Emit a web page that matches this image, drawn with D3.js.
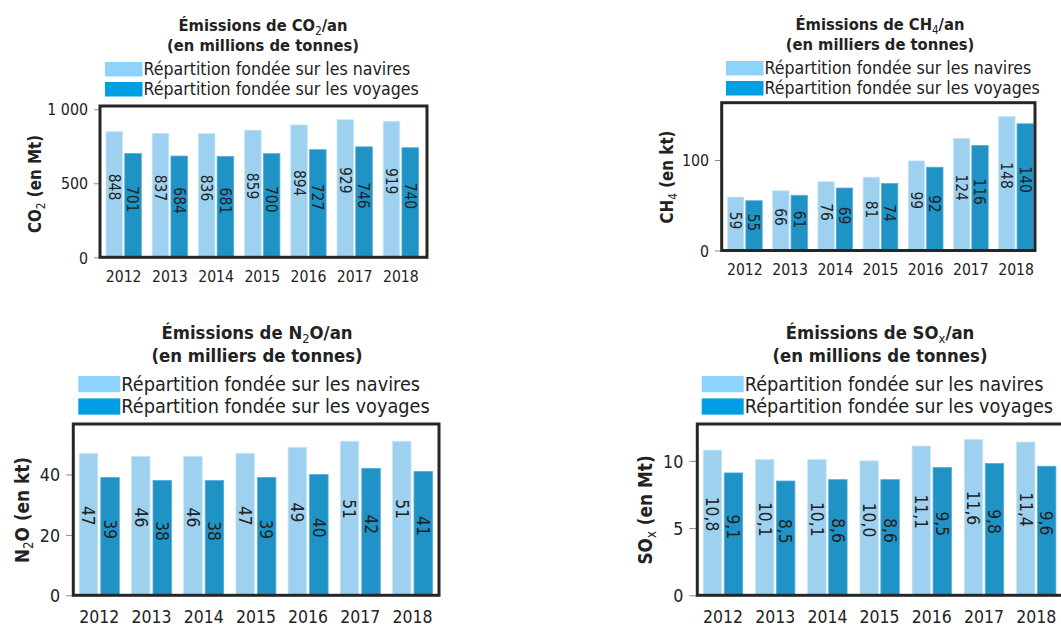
<!DOCTYPE html>
<html><head><meta charset="utf-8">
<script src="https://cdn.jsdelivr.net/npm/d3@7"></script>
<style>
body{margin:0;background:#fff}
svg{display:block}
text{font-family:"DejaVu Sans",sans-serif;font-stretch:condensed;fill:#222}
</style>
</head><body>
<svg id="chart" width="1061" height="626"></svg>
<script>
// ---------- data ----------
const years = ["2012","2013","2014","2015","2016","2017","2018"];
const seriesNames = ["Répartition fondée sur les navires","Répartition fondée sur les voyages"];

const co2Navires = [848,837,836,859,894,929,919];
const co2Voyages = [701,684,681,700,727,746,740];
const ch4Navires = [59,66,76,81,99,124,148];
const ch4Voyages = [55,61,69,74,92,116,140];
const n2oNavires = [47,46,46,47,49,51,51];
const n2oVoyages = [39,38,38,39,40,42,41];
const soxNavires = [10.8,10.1,10.1,10.0,11.1,11.6,11.4];
const soxVoyages = [9.1,8.5,8.6,8.6,9.5,9.8,9.6];

const co2Ticks = [0,500,1000];
const ch4Ticks = [0,100];
const n2oTicks = [0,20,40];
const soxTicks = [0,5,10];

const co2Title = ["Émissions de CO","2","/an","(en millions de tonnes)"];
const ch4Title = ["Émissions de CH","4","/an","(en milliers de tonnes)"];
const n2oTitle = ["Émissions de N","2","O/an","(en milliers de tonnes)"];
const soxTitle = ["Émissions de SO","x","/an","(en millions de tonnes)"];

const co2AxisLabel = ["CO","2"," (en Mt)"];
const ch4AxisLabel = ["CH","4"," (en kt)"];
const n2oAxisLabel = ["N","2","O (en kt)"];
const soxAxisLabel = ["SO","x"," (en Mt)"];

// ---------- styling / layout ----------
const fr = d3.formatLocale({decimal:",", thousands:"\u00a0", grouping:[3], currency:["","\u00a0€"]});
const colLightBar = "#9dd1ef", colDarkBar = "#1f92c6";
const colLightSw = "#8dd4fc", colDarkSw = "#009fe3";

const panels = [
  {nav:co2Navires, voy:co2Voyages, ticks:co2Ticks, tfmt:fr.format(",d"), vfmt:fr.format("d"),
   title:co2Title, axl:co2AxisLabel,
   l:100, t:106, r:427, b:257.3, yMax:1022, x0:106, step:46.2, gw:35.3, gap:2.2, s:1,
   tx:263, ty:25, legX:105, legY:62, axX:35, axY:184, tick:6},
  {nav:ch4Navires, voy:ch4Voyages, ticks:ch4Ticks, tfmt:fr.format(",d"), vfmt:fr.format("d"),
   title:ch4Title, axl:ch4AxisLabel,
   l:721.7, t:102.7, r:1035, b:250.5, yMax:163.3, x0:727.5, step:45.2, gw:34.7, gap:2, s:1,
   tx:880, ty:24.3, legX:726, legY:61, axX:667, axY:177, tick:6.7},
  {nav:n2oNavires, voy:n2oVoyages, ticks:n2oTicks, tfmt:fr.format(",d"), vfmt:fr.format("d"),
   title:n2oTitle, axl:n2oAxisLabel,
   l:73.3, t:424, r:439, b:595.3, yMax:56.7, x0:79.3, step:52.2, gw:40, gap:3, s:1.12,
   tx:257, ty:332.5, legX:78.3, legY:376, axX:22, axY:510, tick:7.3},
  {nav:soxNavires, voy:soxVoyages, ticks:soxTicks, tfmt:fr.format(",d"), vfmt:fr.format(".1f"),
   title:soxTitle, axl:soxAxisLabel,
   l:697.3, t:424, r:1063, b:595.3, yMax:12.74, x0:703.3, step:52.2, gw:39.4, gap:2.5, s:1.12,
   tx:880, ty:332.5, legX:701.7, legY:376, axX:645, axY:510, tick:8}
];

const svg = d3.select("#chart");

function addSubText(sel, parts, fs){
  sel.append("tspan").text(parts[0]);
  sel.append("tspan").text(parts[1]).attr("font-size", fs*0.7).attr("font-weight","normal").attr("dy", fs*0.22);
  sel.append("tspan").text(parts[2]).attr("dy", -fs*0.22);
}

panels.forEach(p => {
  const g = svg.append("g");
  const s = p.s;
  const n = years.length;

  // x scales
  const pad = 1 - p.gw/p.step;
  const span = n*p.step;
  const x = d3.scaleBand().domain(years)
    .range([p.x0 - p.step*pad/2, p.x0 - p.step*pad/2 + span])
    .paddingInner(pad).paddingOuter(pad/2);
  const subPad = p.gap/((p.gw + p.gap)/2);
  const xs = d3.scaleBand().domain([0,1]).range([0, x.bandwidth()]).paddingInner(subPad).paddingOuter(0);
  const y = d3.scaleLinear().domain([0, p.yMax]).range([p.b, p.t]);

  const rows = years.map((yr,i) => ({yr, vals:[p.nav[i], p.voy[i]]}));

  // bars
  const grp = g.selectAll(".grp").data(rows).join("g")
    .attr("transform", d => `translate(${x(d.yr)},0)`);
  grp.selectAll("rect").data(d => d.vals.map((v,k)=>({v,k}))).join("rect")
    .attr("x", d => xs(d.k))
    .attr("width", xs.bandwidth())
    .attr("y", d => y(d.v))
    .attr("height", d => p.b - y(d.v))
    .attr("fill", d => d.k===0 ? colLightBar : colDarkBar)
    .attr("stroke", d => d.k===0 ? "#c6e6f8" : "#55acd6")
    .attr("stroke-width", 0.8);

  // value labels (rotated, reading downward)
  const fsV = 15.4*s;
  grp.selectAll("text.val").data(d => d.vals.map((v,k)=>({v,k}))).join("text")
    .attr("class","val")
    .attr("transform", d => `translate(${xs(d.k)+xs.bandwidth()/2},${p.b - 0.56*(p.b - y(d.v))}) rotate(90)`)
    .attr("text-anchor","middle")
    .attr("dy","0.36em")
    .attr("font-size", fsV)
    .text(d => p.vfmt(d.v));

  // y axis ticks
  const fsTick = 15.8*s;
  const ax = g.append("g").attr("transform",`translate(${p.l},0)`)
    .call(d3.axisLeft(y).tickValues(p.ticks).tickFormat(p.tfmt).tickSize(p.tick).tickPadding(6));
  ax.select(".domain").remove();
  ax.selectAll(".tick line").attr("stroke","#8a8a8a");
  ax.selectAll(".tick text").attr("font-size",fsTick).attr("fill","#222").attr("font-family",null)
    .attr("dy","0.36em");

  // x axis labels
  const bx = g.append("g").attr("transform",`translate(0,${p.b})`)
    .call(d3.axisBottom(x).tickSize(0));
  bx.select(".domain").remove();
  bx.selectAll(".tick text").attr("font-size",15.6*s).attr("fill","#222").attr("font-family",null)
    .attr("y",18.8*s).attr("dy","0.36em");

  // frame
  g.append("rect").attr("x",p.l).attr("y",p.t).attr("width",p.r-p.l).attr("height",p.b-p.t)
    .attr("fill","none").attr("stroke","#262626").attr("stroke-width",3);

  // title
  const fsT = 16.4*s;
  const t1 = g.append("text").attr("x",p.tx).attr("y",p.ty).attr("text-anchor","middle")
    .attr("dy","0.36em").attr("font-weight","bold").attr("font-size",fsT);
  addSubText(t1, p.title, fsT);
  g.append("text").attr("x",p.tx).attr("y",p.ty+20*s).attr("text-anchor","middle")
    .attr("dy","0.36em").attr("font-weight","bold").attr("font-size",fsT)
    .text(p.title[3]);

  // legend
  const swW = 37.5*s, swH = 14.5*s, rowH = 20*s;
  const leg = g.append("g").attr("transform",`translate(${p.legX},${p.legY})`);
  seriesNames.forEach((nm,k) => {
    leg.append("rect").attr("x",0).attr("y",k*rowH).attr("width",swW).attr("height",swH)
      .attr("fill", k===0 ? colLightSw : colDarkSw);
    leg.append("text").attr("x",swW+1).attr("y",k*rowH+swH/2).attr("dy","0.34em")
      .attr("font-size",17.6*s).text(nm);
  });

  // y axis title
  const fsA = 16.8*s;
  const at = g.append("text").attr("transform",`translate(${p.axX},${p.axY}) rotate(-90)`)
    .attr("text-anchor","middle").attr("dy","0.36em")
    .attr("font-weight","bold").attr("font-size",fsA);
  addSubText(at, p.axl, fsA);
});
</script>
</body></html>
